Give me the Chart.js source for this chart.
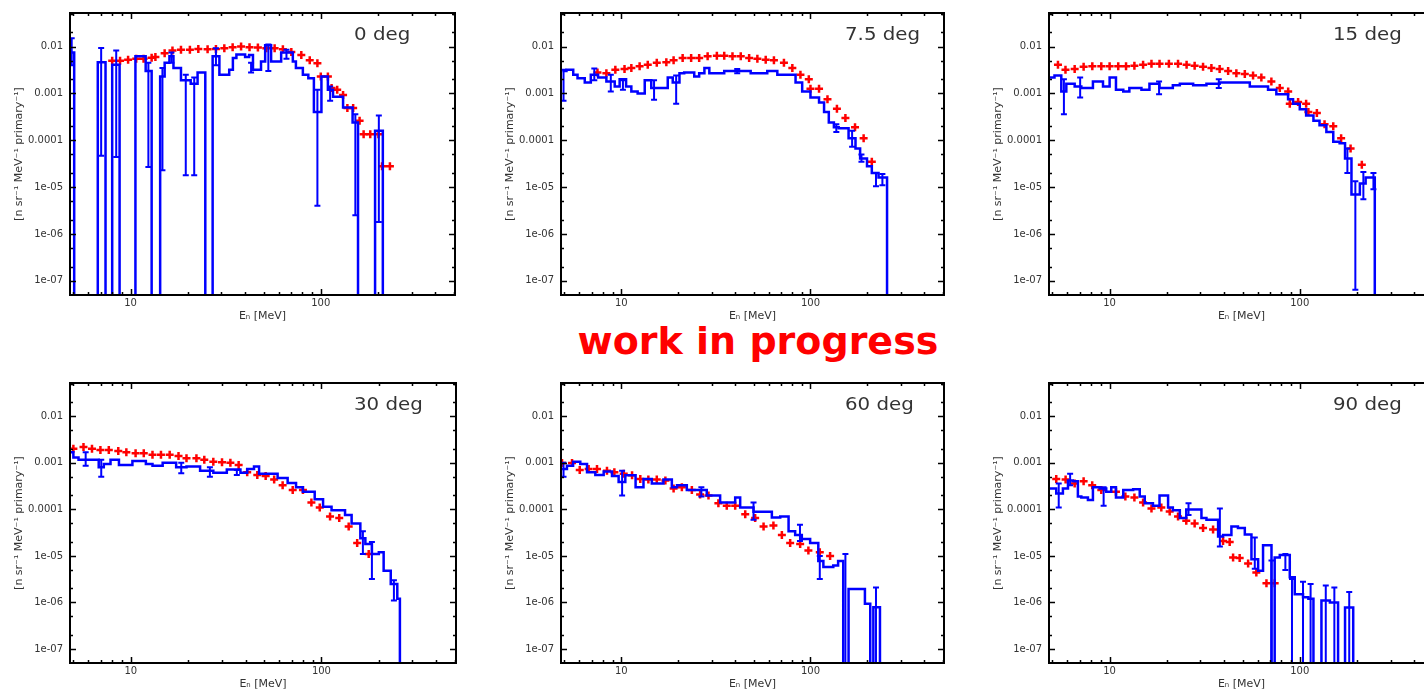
<!DOCTYPE html>
<html><head><meta charset="utf-8">
<script src="https://cdn.jsdelivr.net/npm/chart.js@4.4.1/dist/chart.umd.min.js"></script>
<style>
html,body{margin:0;padding:0;background:#fff;width:1424px;height:692px;overflow:hidden;position:relative}
canvas{position:absolute}
#wip{position:absolute;left:758px;top:322px;transform:translateX(-50%);font:bold 38px "DejaVu Sans",Verdana,sans-serif;line-height:38px;color:#ff0000;white-space:nowrap}
</style></head><body>
<div id="wip">work in progress</div>
<script>
// ---------------- data ----------------
const panelTitles = ['0 deg', '7.5 deg', '15 deg', '30 deg', '60 deg', '90 deg'];
const xTickValues = [10, 100];
const xTickLabels = ['10', '100'];
const yTickValues = [0.01, 0.001, 0.0001, 1e-5, 1e-6, 1e-7];
const yTickLabels = ['0.01', '0.001', '0.0001', '1e-05', '1e-06', '1e-07'];
const xTitle = 'Eₙ [MeV]';
const yTitle = '[n sr⁻¹ MeV⁻¹ primary⁻¹]';

// 0 deg : simulation histogram (bin edges, flux per bin; 0 = empty bin), error bars [E, low, high], measurement [E, flux]
const p1Edges = [4.7, 5.05, 6.72, 7.38, 8.0, 8.75, 10.6, 12.0, 12.9, 14.3, 15.1, 16.0, 16.8, 18.4, 20.7, 22.5, 24.7, 27.0, 29.3, 33.0, 34.5, 36.0, 40.0, 42.0, 44.0, 48.5, 51.0, 54.8, 61.9, 71.3, 74.0, 80.5, 86.0, 92.0, 100.8, 109, 116, 131, 147, 157, 193, 212];
const p1Flux = [0.0075, 0, 0.0046, 0, 0.0041, 0, 0.0062, 0.003, 0, 0.0023, 0.0045, 0.0062, 0.0035, 0.0019, 0.0016, 0.0028, 0, 0.0062, 0.0025, 0.0032, 0.0057, 0.0068, 0.006, 0.0066, 0.0032, 0.0048, 0.0106, 0.0048, 0.0075, 0.0048, 0.0035, 0.0025, 0.0021, 0.0004, 0.0023, 0.0012, 0.00085, 0.0005, 0.00024, 0, 0.00016];
const p1Err = [[4.9, 0.004, 0.015], [7.0, 4.7e-5, 0.0093], [8.4, 4.4e-5, 0.0082], [12.4, 2.7e-5, 0.0045], [14.7, 2.3e-5, 0.0035], [16.4, 0.0045, 0.0075], [19.5, 1.8e-5, 0.0025], [21.6, 1.8e-5, 0.0022], [28.1, 0.004, 0.0092], [43, 0.0028, 0.0045], [53, 0.003, 0.011], [66, 0.0055, 0.0085], [96, 4e-6, 0.0012], [112, 0.0007, 0.0014], [152, 2.5e-6, 0.00036], [202, 1.8e-6, 0.00034]];
const p1Meas = [[8.0, 0.005], [8.8, 0.005], [9.7, 0.0052], [10.7, 0.0055], [11.7, 0.0055], [12.9, 0.0058], [13.5, 0.006], [15.1, 0.0072], [16.6, 0.0082], [18.4, 0.0085], [20.5, 0.0085], [22.7, 0.0089], [25.4, 0.0088], [28.1, 0.0089], [31.1, 0.0092], [34.4, 0.0097], [38.1, 0.010], [42.2, 0.0097], [46.7, 0.0095], [51.7, 0.0092], [57.2, 0.0092], [63.2, 0.0088], [70, 0.0077], [79, 0.0066], [87.5, 0.0051], [96, 0.0044], [100, 0.0023], [109, 0.0023], [114, 0.0013], [122, 0.0012], [131, 0.00092], [138, 0.00049], [148, 0.00049], [160, 0.00026], [168, 0.000135], [182, 0.000135], [201, 0.000135], [210, 2.8e-5], [231, 2.8e-5]];

// 7.5 deg
const p2Edges = [4.89, 5.13, 5.57, 5.87, 6.41, 6.90, 7.54, 8.34, 9.23, 9.80, 10.6, 11.3, 12.2, 13.3, 14.4, 15.6, 17.6, 18.7, 20.3, 21.5, 24.3, 25.8, 27.5, 29.2, 35.0, 41.1, 48.3, 59.1, 66.8, 83.4, 90.4, 100, 111, 118, 125, 133, 141, 159, 173, 183, 199, 211, 229, 254];
const p2Flux = [0.0030, 0.0032, 0.0025, 0.0021, 0.0017, 0.0025, 0.0022, 0.0018, 0.0014, 0.0020, 0.0014, 0.0011, 0.0010, 0.0019, 0.0013, 0.0013, 0.0022, 0.0017, 0.0027, 0.0028, 0.0023, 0.0027, 0.0035, 0.0027, 0.0030, 0.0030, 0.0027, 0.0030, 0.0025, 0.0017, 0.0011, 0.00082, 0.00064, 0.0004, 0.00024, 0.00019, 0.00018, 0.00011, 6.7e-5, 4.1e-5, 2.8e-5, 2e-5, 1.6e-5];
const p2Err = [[4.95, 0.0007, 0.0032], [7.2, 0.0019, 0.0034], [8.8, 0.0011, 0.0025], [10.2, 0.0012, 0.0019], [14.9, 0.00073, 0.0019], [19.5, 0.0006, 0.0024], [41, 0.0027, 0.0033], [137, 0.00015, 0.00022], [166, 7.3e-5, 0.00016], [186, 3.5e-5, 5e-5], [222, 1.05e-5, 2e-5], [240, 1.1e-5, 1.9e-5]];
const p2Meas = [[7.48, 0.0028], [8.34, 0.0027], [9.30, 0.0032], [10.4, 0.0033], [11.3, 0.0035], [12.5, 0.0038], [13.8, 0.0041], [15.4, 0.0045], [17.3, 0.0046], [18.9, 0.0051], [21.1, 0.0057], [23.4, 0.0057], [25.8, 0.0057], [28.6, 0.0062], [32.0, 0.0064], [35.0, 0.0064], [38.7, 0.0062], [42.8, 0.0062], [47.4, 0.0057], [52.4, 0.0055], [58.0, 0.0052], [64.1, 0.0051], [72.4, 0.0045], [80.2, 0.0035], [88.5, 0.0025], [98, 0.002], [100, 0.00126], [111, 0.00126], [123, 0.00075], [138, 0.00047], [153, 0.0003], [172, 0.00019], [191, 0.00011], [211, 3.5e-5]];

// 15 deg
const p3Edges = [4.80, 5.13, 5.57, 5.92, 6.55, 7.10, 8.17, 9.23, 10.0, 10.8, 11.8, 12.7, 14.7, 16.2, 18.3, 21.5, 23.4, 27.5, 32.3, 37.9, 46.4, 54.6, 68.1, 75.3, 86.8, 92.2, 100, 108, 118, 127, 138, 150, 162, 173, 187, 207, 222, 248];
const p3Flux = [0.0022, 0.0024, 0.0011, 0.0016, 0.0014, 0.0013, 0.0018, 0.0014, 0.0022, 0.0012, 0.0011, 0.0013, 0.0012, 0.0016, 0.0013, 0.0015, 0.0016, 0.0015, 0.0016, 0.0017, 0.0017, 0.0014, 0.0012, 0.00096, 0.00075, 0.0006, 0.00046, 0.00034, 0.00026, 0.00021, 0.00015, 9.3e-5, 8.6e-5, 4.1e-5, 7e-6, 1.2e-5, 1.6e-5];
const p3Err = [[5.75, 0.00036, 0.002], [7.0, 0.00082, 0.0022], [18.2, 0.00096, 0.0018], [37.5, 0.0013, 0.002], [178, 2e-5, 6.7e-5], [196, 6.5e-8, 1.33e-5], [216, 5.5e-6, 2.1e-5], [244, 9e-6, 2e-5]];
const p3Meas = [[5.35, 0.0041], [5.86, 0.0032], [6.55, 0.0033], [7.30, 0.0037], [8.11, 0.0038], [9.04, 0.0038], [10.0, 0.0038], [11.1, 0.0038], [12.2, 0.0038], [13.5, 0.0039], [15.0, 0.0041], [16.6, 0.0043], [18.3, 0.0043], [20.5, 0.0043], [22.9, 0.0043], [25.4, 0.0041], [28.0, 0.0039], [31.0, 0.0037], [34.3, 0.0035], [37.9, 0.0033], [42.0, 0.003], [46.4, 0.0027], [51.4, 0.0026], [56.8, 0.0024], [62.8, 0.0022], [70.9, 0.0018], [78.5, 0.0013], [86.9, 0.0011], [88.6, 0.0006], [98, 0.00066], [108, 0.0006], [111, 0.0004], [123, 0.00038], [135, 0.00022], [150, 0.0002], [165, 0.00011], [185, 6.7e-5], [212, 3e-5]];

// 30 deg
const p4Edges = [4.74, 5.0, 5.32, 6.79, 7.22, 7.83, 8.67, 10.2, 12.0, 13.0, 14.7, 17.3, 19.6, 23.1, 27.1, 31.9, 37.6, 40.8, 44.3, 47.1, 58.9, 66.5, 73.6, 79.9, 92.2, 102, 113, 133, 144, 160, 170, 184, 200, 212, 231, 250, 258];
const p4Flux = [0.0017, 0.0013, 0.00117, 0.0008, 0.00095, 0.00117, 0.0009, 0.0011, 0.00095, 0.00087, 0.001, 0.0008, 0.00084, 0.00068, 0.00061, 0.00072, 0.00061, 0.00074, 0.00084, 0.00058, 0.00047, 0.00037, 0.0003, 0.00024, 0.000166, 0.000114, 9.6e-5, 7.6e-5, 5e-5, 2.4e-5, 1.8e-5, 1.1e-5, 1.2e-5, 4.8e-6, 2.5e-6, 1.2e-6];
const p4Err = [[5.8, 0.00087, 0.0017], [7.0, 0.0005, 0.00117], [18.4, 0.0006, 0.001], [26, 0.0005, 0.0008], [36, 0.00055, 0.0007], [165, 1.1e-5, 3.4e-5], [184, 3.2e-6, 2e-5], [240, 1.1e-6, 3e-6]];
const p4Meas = [[5.0, 0.002], [5.65, 0.0022], [6.26, 0.002], [6.93, 0.0019], [7.67, 0.0019], [8.60, 0.0018], [9.48, 0.0017], [10.6, 0.0016], [11.7, 0.0016], [13.0, 0.0015], [14.4, 0.0015], [16.0, 0.0015], [17.8, 0.0014], [19.6, 0.00125], [22.1, 0.00125], [24.3, 0.00117], [27.1, 0.00106], [30.1, 0.00103], [33.3, 0.001], [36.8, 0.0009], [40.8, 0.00063], [46.1, 0.00055], [51.0, 0.00052], [56.5, 0.00044], [62.6, 0.00033], [70.7, 0.00026], [80, 0.00026], [88.6, 0.00014], [98, 0.00011], [111, 7e-5], [124, 6.5e-5], [139, 4.3e-5], [154, 1.9e-5], [177, 1.1e-5]];

// 60 deg
const p5Edges = [4.86, 5.16, 5.56, 6.07, 6.59, 7.29, 8.07, 8.93, 9.68, 10.5, 11.9, 13.1, 14.5, 16.7, 18.5, 19.7, 22.2, 25.1, 28.3, 33.3, 36.1, 40.0, 42.5, 50.0, 62.5, 69.2, 76.6, 83.0, 90.0, 99.6, 110, 117, 132, 140, 149, 159, 194, 207, 215, 233];
const p5Flux = [0.00074, 0.00087, 0.00106, 0.00095, 0.00063, 0.00055, 0.00065, 0.00052, 0.00039, 0.00054, 0.0003, 0.00045, 0.00036, 0.00044, 0.0003, 0.00033, 0.00026, 0.00026, 0.0002, 0.00014, 0.00014, 0.00018, 0.00011, 8.9e-5, 6.7e-5, 7e-5, 3.4e-5, 2.8e-5, 2.3e-5, 1.9e-5, 7.8e-6, 5.8e-6, 6.2e-6, 7.8e-6, 0, 1.95e-6, 9.4e-7, 0, 7.9e-7];
const p5Err = [[4.95, 0.0005, 0.001], [10.1, 0.0002, 0.00068], [26.5, 0.00019, 0.0003], [50, 6e-5, 0.00014], [88, 2.1e-5, 4.7e-5], [112, 3.2e-6, 1e-5], [153, 0, 1.1e-5], [222, 0, 2.1e-6]];
const p5Meas = [[4.86, 0.00099], [5.49, 0.00099], [6.03, 0.0007], [6.72, 0.00074], [7.44, 0.00074], [8.4, 0.00068], [9.19, 0.00063], [10.3, 0.00058], [11.4, 0.00054], [12.6, 0.00045], [13.9, 0.00044], [15.4, 0.00044], [17.1, 0.00042], [18.9, 0.00028], [20.9, 0.0003], [23.6, 0.00026], [26.1, 0.00021], [28.9, 0.0002], [32.6, 0.000135], [36.1, 0.00012], [40, 0.00012], [45.2, 7.9e-5], [51, 6.5e-5], [56.5, 4.3e-5], [63.7, 4.5e-5], [70.6, 2.8e-5], [78.1, 1.9e-5], [88.2, 1.8e-5], [97.5, 1.3e-5], [112, 1.2e-5], [127, 1e-5]];

// 90 deg
const p6Edges = [4.80, 5.24, 5.68, 6.04, 6.41, 6.81, 7.10, 7.69, 8.17, 8.86, 9.60, 10.2, 10.8, 11.8, 13.3, 14.4, 15.3, 16.9, 18.3, 20.3, 21.5, 23.4, 25.3, 27.5, 30.4, 32.3, 37.2, 39.5, 43.7, 47.3, 51.4, 55.7, 60.4, 64.1, 71.0, 73.8, 78.5, 88.6, 94.1, 104, 111, 118, 130, 144, 159, 173, 191];
const p6Flux = [0.00028, 0.00022, 0.00028, 0.00042, 0.0004, 0.00019, 0.00018, 0.00016, 0.0003, 0.00028, 0.00024, 0.0003, 0.00018, 0.00026, 0.00027, 0.00019, 0.000135, 0.00012, 0.0002, 0.00011, 9.6e-5, 6.5e-5, 0.0001, 0.0001, 6.5e-5, 6e-5, 2.6e-5, 2.8e-5, 4.3e-5, 4e-5, 2.9e-5, 8.5e-6, 4.8e-6, 1.7e-5, 0, 9.2e-6, 1.05e-5, 3.5e-6, 1.5e-6, 1.3e-6, 1.2e-6, 0, 1.1e-6, 1.0e-6, 0, 7.8e-7];
const p6Err = [[5.4, 0.00011, 0.00036], [6.2, 0.00033, 0.00058], [9.3, 0.00012, 0.0003], [26, 7.6e-5, 0.000135], [38, 1.6e-5, 0.000105], [58, 5.3e-6, 2.5e-5], [71, 0, 8e-6], [84, 5e-6, 1.1e-5], [91, 0, 3.2e-6], [104, 0, 2.8e-6], [114, 0, 2.5e-6], [137, 0, 2.3e-6], [152, 0, 2.1e-6], [182, 0, 1.67e-6]];
const p6Meas = [[5.24, 0.00045], [5.87, 0.00044], [6.55, 0.00036], [7.30, 0.0004], [8.10, 0.00033], [9.04, 0.00026], [10.8, 0.00024], [12.1, 0.00019], [13.5, 0.00018], [15.0, 0.00014], [16.6, 0.000105], [18.7, 0.00011], [20.7, 9e-5], [22.9, 7e-5], [25.3, 5.7e-5], [28.0, 5e-5], [31.0, 4e-5], [35.0, 3.7e-5], [39.5, 2.1e-5], [42.8, 2e-5], [44.6, 9.2e-6], [48.3, 9e-6], [53.5, 6.9e-6], [59.1, 4.4e-6], [66.8, 2.6e-6], [73.8, 2.6e-6]];

// ---------------- layout ----------------
const X_MIN = 4.8, X_MAX = 508, Y_MIN = 5e-8, Y_MAX = 0.052;
const FLOOR = 1e-12; // empty bins are drawn far below the axis floor (clipped)
const PAD_L = 70, PAD_T = 9, PAD_R = 15, PAD_B = 35;
const layout = [
  {left: 70, top: 9, w: 385, h: 286},
  {left: 561, top: 9, w: 383, h: 286},
  {left: 1049, top: 9, w: 385, h: 286},
  {left: 70, top: 379, w: 386, h: 284},
  {left: 561, top: 379, w: 383, h: 284},
  {left: 1049, top: 379, w: 385, h: 284}
];
const series = [
  [p1Edges, p1Flux, p1Err, p1Meas],
  [p2Edges, p2Flux, p2Err, p2Meas],
  [p3Edges, p3Flux, p3Err, p3Meas],
  [p4Edges, p4Flux, p4Err, p4Meas],
  [p5Edges, p5Flux, p5Err, p5Meas],
  [p6Edges, p6Flux, p6Err, p6Meas]
];

const xMinor = [];
for (const d of [1, 10, 100]) for (let m = 2; m <= 9; m++) { const v = m * d; if (v > X_MIN && v < X_MAX) xMinor.push(v); }
const yMinor = [];
for (let e = -8; e <= -2; e++) for (const m of [2, 5]) { const v = m * Math.pow(10, e); if (v > Y_MIN && v < Y_MAX) yMinor.push(v); }

const BLUE = '#0000ff', RED = '#ff0000';
const tickFont = {family: '"DejaVu Sans", sans-serif', size: 10};
const titleFont = {family: '"DejaVu Sans", sans-serif', size: 11};

function decorPlugin(title, err) {
  return {
    id: 'decor',
    afterDatasetsDraw(chart) {
      const {ctx, chartArea: a, scales: {x, y}} = chart;
      // error bars
      ctx.save();
      ctx.beginPath(); ctx.rect(a.left, a.top, a.right - a.left, a.bottom - a.top); ctx.clip();
      ctx.strokeStyle = BLUE; ctx.lineWidth = 2;
      for (const [e, lo, hi] of err) {
        const px = x.getPixelForValue(e), p1 = y.getPixelForValue(lo > 0 ? lo : FLOOR), p2 = y.getPixelForValue(hi);
        ctx.beginPath();
        ctx.moveTo(px, p1); ctx.lineTo(px, p2);
        ctx.moveTo(px - 3, p2); ctx.lineTo(px + 3, p2);
        if (lo > 0) { ctx.moveTo(px - 3, p1); ctx.lineTo(px + 3, p1); }
        ctx.stroke();
      }
      ctx.restore();
      // frame and inward ticks
      ctx.save();
      ctx.strokeStyle = '#000'; ctx.lineWidth = 2;
      ctx.strokeRect(a.left, a.top, a.right - a.left, a.bottom - a.top);
      ctx.lineWidth = 1.5;
      ctx.beginPath();
      const xt = (v, len) => { const p = Math.round(x.getPixelForValue(v)) + 0.5; ctx.moveTo(p, a.bottom); ctx.lineTo(p, a.bottom - len); ctx.moveTo(p, a.top); ctx.lineTo(p, a.top + len); };
      const yt = (v, len) => { const p = Math.round(y.getPixelForValue(v)) + 0.5; ctx.moveTo(a.left, p); ctx.lineTo(a.left + len, p); ctx.moveTo(a.right, p); ctx.lineTo(a.right - len, p); };
      xTickValues.forEach(v => xt(v, 6)); xMinor.forEach(v => xt(v, 3));
      yTickValues.forEach(v => yt(v, 6)); yMinor.forEach(v => yt(v, 3));
      ctx.stroke();
      // panel title
      ctx.fillStyle = '#333';
      ctx.font = '18px "DejaVu Sans", sans-serif';
      ctx.textBaseline = 'alphabetic';
      ctx.translate(a.left + 284, a.top + 27);
      ctx.scale(1.1, 1);
      ctx.fillText(title, 0, 0);
      ctx.restore();
    }
  };
}

function makePanel(i) {
  const L = layout[i];
  const [edges, flux, err, meas] = series[i];
  const W = L.w + PAD_L + PAD_R, H = L.h + PAD_T + PAD_B;
  const cv = document.createElement('canvas');
  cv.width = W; cv.height = H;
  cv.style.left = (L.left - PAD_L) + 'px'; cv.style.top = (L.top - PAD_T) + 'px';
  cv.style.width = W + 'px'; cv.style.height = H + 'px';
  document.body.appendChild(cv);
  // histogram outline: each point opens a bin at its lower edge; the last edge closes down to the floor
  const hist = edges.map((e, k) => ({x: e, y: (k < flux.length && flux[k] > 0) ? flux[k] : FLOOR}));
  new Chart(cv, {
    type: 'scatter',
    data: {datasets: [
      {type: 'line', data: hist, stepped: 'before', borderColor: BLUE, borderWidth: 2.5, pointRadius: 0, fill: false, showLine: true, order: 1},
      {type: 'scatter', data: meas.map(p => ({x: p[0], y: p[1]})), pointStyle: 'cross', pointRadius: 4, borderColor: RED, backgroundColor: RED, borderWidth: 2.5, order: 2}
    ]},
    options: {
      responsive: false, animation: false, devicePixelRatio: 1,
      layout: {padding: {left: 0, top: PAD_T, right: PAD_R, bottom: 0}, autoPadding: false},
      plugins: {legend: {display: false}, tooltip: {enabled: false}, title: {display: false}},
      scales: {
        x: {
          type: 'logarithmic', min: X_MIN, max: X_MAX,
          afterFit: s => { s.height = PAD_B; },
          afterBuildTicks: s => { s.ticks = xTickValues.map(v => ({value: v})); },
          ticks: {callback: v => xTickLabels[xTickValues.indexOf(v)] ?? '', autoSkip: false, maxRotation: 0, padding: 2, font: tickFont, color: '#333'},
          grid: {display: false, drawTicks: false}, border: {display: false},
          title: {display: true, text: xTitle, font: titleFont, color: '#333', padding: {top: 0, bottom: 7}}
        },
        y: {
          type: 'logarithmic', min: Y_MIN, max: Y_MAX,
          afterFit: s => { s.width = PAD_L; },
          afterBuildTicks: s => { s.ticks = yTickValues.map(v => ({value: v})); },
          ticks: {callback: v => yTickLabels[yTickValues.indexOf(v)] ?? '', autoSkip: false, padding: 7, font: tickFont, color: '#333'},
          grid: {display: false, drawTicks: false}, border: {display: false},
          title: {display: true, text: yTitle, font: titleFont, color: '#333', padding: {top: 13, bottom: 0}}
        }
      }
    },
    plugins: [decorPlugin(panelTitles[i], err)]
  });
}
for (let i = 0; i < 6; i++) makePanel(i);
</script>
</body></html>
